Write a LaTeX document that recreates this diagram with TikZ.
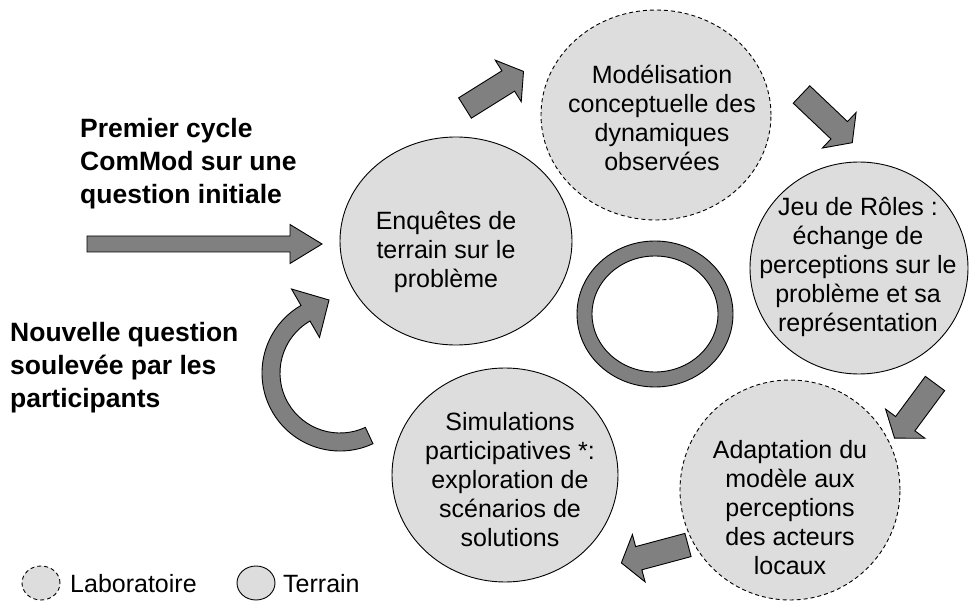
\documentclass[tikz,border=0pt]{standalone}
\usepackage{fontspec}
\setmainfont{Liberation Sans}
\usetikzlibrary{shapes.geometric}

\definecolor{cerclegris}{RGB}{221,221,221}
\definecolor{flechegris}{RGB}{128,128,128}

\tikzset{
  terrain/.style={ellipse, draw, fill=cerclegris, line width=0.9pt, inner sep=0pt},
  labo/.style={terrain, dash pattern=on 4pt off 3pt},
  txt/.style={align=center, font=\fontsize{25}{29}\selectfont, inner sep=0pt},
  titre/.style={align=left, anchor=west, font=\fontsize{26.5}{33}\selectfont\bfseries, inner sep=0pt},
  fleche/.style={draw, fill=flechegris, line width=0.9pt, line join=miter},
}

% bloc fleche : position de la queue, rotation, longueur du corps
\newcommand{\blocfleche}[3]{%
  \begin{scope}[shift={#1}, rotate=#2]
    \draw[fleche] (0,-12) -- (#3,-12) -- (#3,-24.5) -- ({#3+18},0) -- (#3,24.5) -- (#3,12) -- (0,12) -- cycle;
  \end{scope}}

\begin{document}
\begin{tikzpicture}[x=1pt, y=-1pt]
\useasboundingbox (0,0) rectangle (969,601);

% les cercles
\node[terrain, minimum width=232pt, minimum height=208pt] (enq) at (456,241) {};
\node[labo, minimum width=230pt, minimum height=210pt] (model) at (656,115) {};
\node[terrain, minimum width=218pt, minimum height=212pt] (jeu) at (859,268) {};
\node[labo, minimum width=220pt, minimum height=220pt] (adapt) at (790,490) {};
\node[terrain, minimum width=226pt, minimum height=214pt] (simu) at (505,475) {};

\node[txt] (enqtxt) at (446,252) {Enquêtes de\\terrain sur le\\problème};
\node[txt] (modeltxt) at (662,118) {Modélisation\\conceptuelle des\\dynamiques\\observées};
\node[txt] (jeutxt) at (858,267) {Jeu de Rôles :\\échange de\\perceptions sur le\\problème et sa\\représentation};
\node[txt] (adapttxt) at (790,508) {Adaptation du\\modèle aux\\perceptions\\des acteurs\\locaux};
\node[txt] (simutxt) at (510,480) {Simulations\\participatives *:\\exploration de\\scénarios de\\solutions};

% anneau central
\draw[fleche, even odd rule] (655,314) ellipse [x radius=78, y radius=73]
  (655,314) ellipse [x radius=63, y radius=58];

% fleches du cycle
\blocfleche{(465,108)}{32}{51}
\blocfleche{(801.5,94.5)}{-43.5}{52}
\blocfleche{(935,383.5)}{-126.5}{50}
\blocfleche{(688,545)}{-165}{51}

% premier cycle
\node[titre] (premier) at (80,164) {Premier cycle\\ComMod sur une\\question initiale};
\draw[fleche] (87,236) -- (290,236) -- (290,224.5) -- (322,244) -- (290,263.5) -- (290,252) -- (87,252) -- cycle;

% nouvelle question
\node[titre] (nouvelle) at (10,368) {Nouvelle question\\soulevée par les\\participants};
\begin{scope}[shift={(340,373)}]
  \draw[fleche] (65:78) arc[start angle=65, end angle=240, radius=78] -- (240:97) -- (-11,-73)
    -- (240:41) -- (240:60) arc[start angle=240, end angle=65, radius=60] -- cycle;
\end{scope}

% legende
\node[labo, minimum width=38pt, minimum height=34pt] (leglabo) at (41,583) {};
\node[txt, anchor=base west] (leglabotxt) at (70,592) {Laboratoire};
\node[terrain, minimum width=38pt, minimum height=34pt] (legterrain) at (256,583) {};
\node[txt, anchor=base west] (legterraintxt) at (283,592) {Terrain};
\end{tikzpicture}
\end{document}
